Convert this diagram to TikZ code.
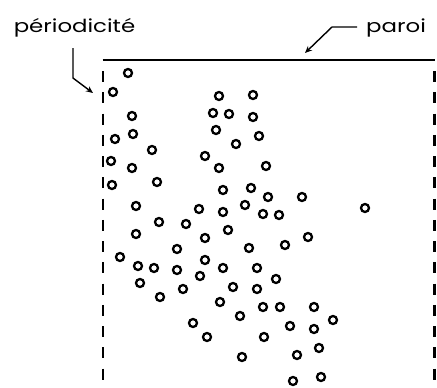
\documentclass[tikz,border=0pt]{standalone}
\usepackage{fontspec}
\setmainfont{Poppins}
\usetikzlibrary{arrows.meta}
\newcommand{\widetext}[1]{\scalebox{1.27}[1]{#1}}
\begin{document}
\begin{tikzpicture}[x=1pt,y=-1pt,
  ptcl/.style={circle,draw,line width=2.3pt,minimum size=8pt,inner sep=0pt},
  lbl/.style={font=\fontsize{18}{20}\selectfont,inner sep=0pt},
  wall/.style={line width=2pt},
  perbound/.style={line width=2.4pt,dash pattern=on 11pt off 10.25pt},
  pointer/.style={line width=1.4pt,-{Stealth[length=7pt,width=6pt]}}]
\useasboundingbox (0,0) rectangle (437,388);
% labels
\node[lbl] (perio) at (74.5,28) {\widetext{périodicité}};
\node[lbl,anchor=west] (paroi) at (366,28) {\widetext{paroi}};
% wall and periodic boundaries
\coordinate (wl) at (102.7,60);
\coordinate (wr) at (435,60);
\draw[wall] (wl) -- (wr);
\coordinate (lt) at (102.7,71);
\coordinate (lb) at (102.7,380);
\coordinate (rt) at (434.3,71);
\coordinate (rb) at (434.3,380);
\draw[perbound] (lt) -- (lb);
\draw[perbound] (rt) -- (rb);
% pointers
\coordinate (pa) at (73,48);
\coordinate (pb) at (73,78);
\coordinate (pc) at (93,93);
\draw[pointer] (pa) -- (pb) -- (pc);
\coordinate (qa) at (357,27);
\coordinate (qb) at (332,27);
\coordinate (qc) at (305,53);
\draw[pointer] (qa) -- (qb) -- (qc);
% particles
\foreach \i/\x/\y in {
1/128/73,2/113/92,3/219/96,4/253/95,5/132/116,6/213/113,7/229/114,8/253/117,
9/133/134,10/115/139,11/216/130,12/259/136,13/236/144,14/152/150,15/111/161,
16/205/156,17/219/168,18/266/166,19/132/168,20/112/185,21/157/182,22/223/190,
23/251/188,24/268/197,25/302/197,26/136/206,27/199/209,28/223/212,29/245/205,
30/263/214,31/279/215,32/365/208,33/159/222,34/186/224,35/228/230,36/136/234,
37/205/238,38/308/237,39/285/245,40/177/249,41/249/248,42/120/257,43/138/266,
44/154/268,45/177/270,46/205/260,47/223/268,48/257/268,49/200/276,50/276/279,
51/140/283,52/183/289,53/233/287,54/257/289,55/160/297,56/220/302,57/240/316,
58/263/307,59/280/307,60/314/307,61/333/320,62/193/323,63/290/326,64/314/329,
65/207/337,66/264/337,67/319/348,68/242/357,69/297/355,70/293/381,71/321/377}
  \node[ptcl] (c\i) at (\x,\y) {};
\end{tikzpicture}
\end{document}
